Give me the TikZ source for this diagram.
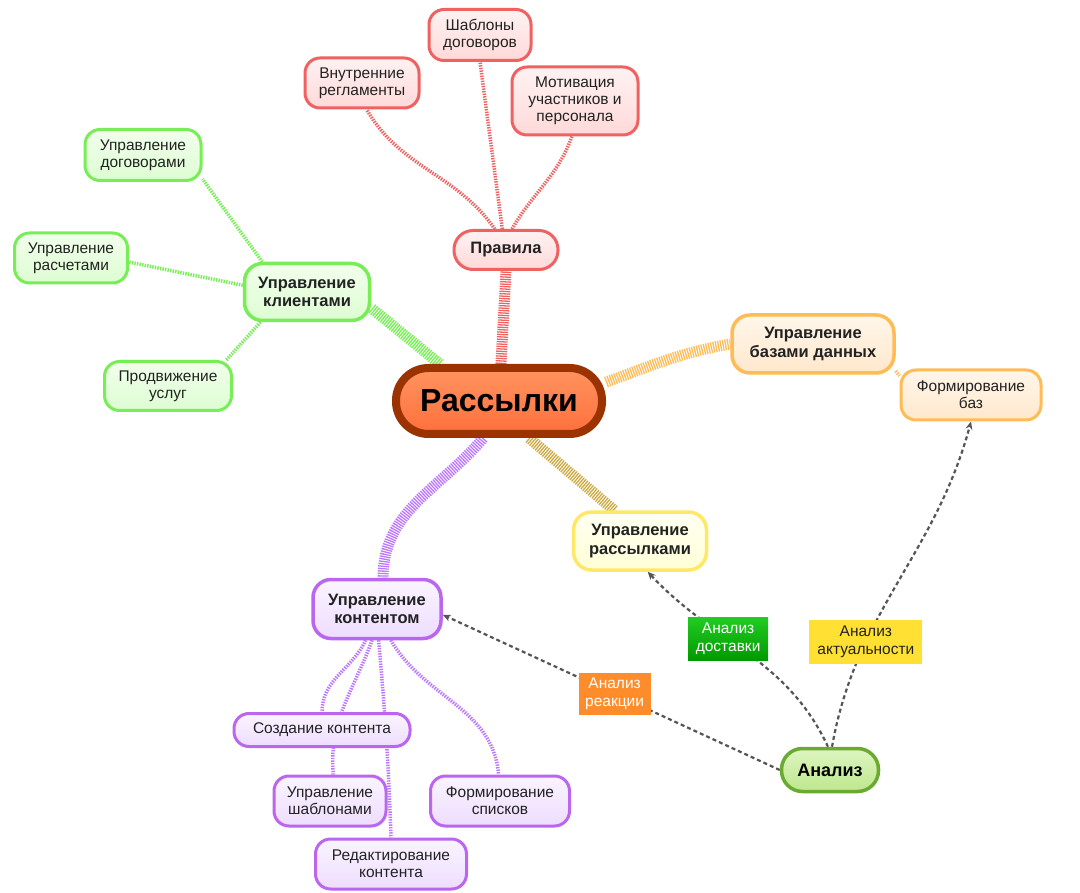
\documentclass[tikz,border=0pt]{standalone}
\usepackage{fontspec}
\setmainfont{Liberation Sans}
\usetikzlibrary{arrows.meta,backgrounds}
\definecolor{mainD}{HTML}{9A3300}
\definecolor{mainT}{HTML}{FF9460}
\definecolor{mainB}{HTML}{FF6F3C}
\definecolor{redE}{HTML}{F06262}
\definecolor{redT}{HTML}{FFF2F2}
\definecolor{redB}{HTML}{FFD9D9}
\definecolor{grnE}{HTML}{77EE55}
\definecolor{grnT}{HTML}{F2FFEC}
\definecolor{grnB}{HTML}{DDFDD2}
\definecolor{orgE}{HTML}{FFBB55}
\definecolor{orgT}{HTML}{FFF6EA}
\definecolor{orgB}{HTML}{FFE8CC}
\definecolor{ylwE}{HTML}{FFE866}
\definecolor{ylwT}{HTML}{FFFFF2}
\definecolor{ylwB}{HTML}{FFFFD6}
\definecolor{prpE}{HTML}{BB66EE}
\definecolor{prpT}{HTML}{FAF4FF}
\definecolor{prpB}{HTML}{EEDDFF}
\definecolor{prpL}{HTML}{BB77FF}
\definecolor{khaki}{HTML}{CCAA44}
\definecolor{anE}{HTML}{6AAA30}
\definecolor{anT}{HTML}{DDF5C0}
\definecolor{anB}{HTML}{BEE78E}
\definecolor{arrG}{HTML}{555555}
\definecolor{tagO}{HTML}{FF8C2A}
\definecolor{tagGT}{HTML}{22CC22}
\definecolor{tagGB}{HTML}{009900}
\definecolor{tagY}{HTML}{FFE033}
\definecolor{txt}{HTML}{222222}
\begin{document}
\begin{tikzpicture}[x=1pt,y=-1pt,
  box/.style={rounded corners=15pt, line width=3pt, align=center, inner sep=0pt,
    font=\fontsize{15.5}{17}\selectfont, text=txt},
  topbox/.style={box, rounded corners=18pt, line width=3.5pt, font=\bfseries\fontsize{16.5}{18.5}\selectfont},
  redbox/.style={draw=redE, top color=redT, bottom color=redB},
  grnbox/.style={draw=grnE, top color=grnT, bottom color=grnB},
  orgbox/.style={draw=orgE, top color=orgT, bottom color=orgB},
  ylwbox/.style={draw=ylwE, top color=ylwT, bottom color=ylwB},
  prpbox/.style={draw=prpE, top color=prpT, bottom color=prpB},
  sz/.style 2 args={minimum width=#1pt, minimum height=#2pt},
  branch/.style={line width=11pt, dash pattern=on 1.3pt off 1.1pt},
  twig/.style={line width=3.5pt, dash pattern=on 1.4pt off 1.2pt},
  flow/.style={draw=arrG, line width=2.2pt, dash pattern=on 4pt off 3pt,
    -{Stealth[length=8pt,width=7pt]}},
  tag/.style={inner sep=0pt, align=center, font=\fontsize{15.5}{18}\selectfont}
]
\useasboundingbox (0,0) rectangle (1080,893);

% central node
\node[box, sz={206}{66}, rounded corners=32.5pt, line width=8pt, draw=mainD,
  top color=mainT, bottom color=mainB, text=black,
  font=\bfseries\fontsize{32}{36}\selectfont] (main) at (499,401) {Рассылки};

% rules group
\node[box, topbox, redbox, sz={104}{39}, rounded corners=19pt, line width=3pt] (rules) at (506,250) {Правила};
\node[box, redbox, sz={102}{51}] (tpl) at (480,35) {Шаблоны\\договоров};
\node[box, redbox, sz={114}{50}] (regl) at (362,83) {Внутренние\\регламенты};
\node[box, redbox, sz={126}{68}] (motiv) at (575,101) {Мотивация\\участников и\\персонала};

% clients group
\node[box, topbox, grnbox, sz={125}{57}] (clients) at (307,292) {Управление\\клиентами};
\node[box, grnbox, sz={116}{51}] (dogov) at (143,155) {Управление\\договорами};
\node[box, grnbox, sz={113}{50}] (rasch) at (71,258) {Управление\\расчетами};
\node[box, grnbox, sz={127}{49}] (prod) at (168,386) {Продвижение\\услуг};

% bases group
\node[box, topbox, orgbox, sz={162}{58}] (bases) at (813,344) {Управление\\базами данных};
\node[box, orgbox, sz={140}{50}] (formb) at (971,395) {Формирование\\баз};

% mailing
\node[box, topbox, ylwbox, sz={133}{58}] (mailing) at (640,541) {Управление\\рассылками};

% content group
\node[box, topbox, prpbox, sz={128}{59}] (content) at (377,609) {Управление\\контентом};
\node[box, prpbox, sz={176}{33}, rounded corners=15pt] (create) at (322,730) {Создание контента};
\node[box, prpbox, sz={112}{50}] (tpl2) at (330,801) {Управление\\шаблонами};
\node[box, prpbox, sz={151}{50}] (edit) at (391,864) {Редактирование\\контента};
\node[box, prpbox, sz={139}{50}] (lists) at (500,801) {Формирование\\списков};

% analysis
\node[box, sz={97}{43}, rounded corners=21pt, line width=3.5pt, draw=anE,
  top color=anT, bottom color=anB, text=black,
  font=\bfseries\fontsize{18}{20}\selectfont] (analysis) at (830,770) {Анализ};

\begin{scope}[on background layer]
  \fill[white] (0,0) rectangle (1080,893);
  % main branches
  \draw[branch, draw=redE] (main.87) -- (rules.south);
  \draw[branch, draw=grnE] (main.148) -- (clients.-14);
  \draw[branch, draw=orgE] (main.10) to[out=20,in=190] (bases.west);
  \draw[branch, draw=khaki] (main.-51) -- (mailing.130);
  \draw[branch, draw=prpL] (main.-113) to[out=-130,in=90] (content.79);
  % rules twigs
  \draw[twig, draw=redE] (rules.118) to[out=125,in=-60] (regl.-80);
  \draw[twig, draw=redE] (rules.100) -- (tpl.south);
  \draw[twig, draw=redE] (rules.74) to[out=60,in=-110] (motiv.-95);
  % clients twigs
  \draw[twig, draw=grnE] (clients.146) -- (dogov.-22);
  \draw[twig, draw=grnE] (clients.174) -- (rasch.-4);
  \draw[twig, draw=grnE] (clients.-147) -- (prod.24);
  % bases twig
  \draw[twig, draw=orgE] (bases.-18) -- (formb.165);
  % content twigs
  \draw[twig, draw=prpL] (content.-110) to[out=-115,in=90] (create.north);
  \draw[twig, draw=prpL] (content.-99) to[out=-110,in=95] (tpl2.83);
  \draw[twig, draw=prpL] (content.-87) to[out=-85,in=92] (edit.north);
  \draw[twig, draw=prpL] (content.-66) to[out=-60,in=95] (lists.93);
  % analysis flows
  \draw[flow] (analysis.west) -- (content.-5)
    node[tag, pos=0.49, fill=tagO, text=white, sz={72}{42}] (reac) {Анализ\\реакции};
  \draw[flow] (analysis.95) to[out=115,in=-47]
    node[tag, pos=0.6, top color=tagGT, bottom color=tagGB, text=white, sz={80}{43}] (deliv) {Анализ\\доставки}
    (mailing.-76);
  \draw[flow] (analysis.85) to[out=80,in=-105]
    node[tag, pos=0.3, fill=tagY, text=txt, sz={113}{44}] (actual) {Анализ\\актуальности}
    (formb.south);
\end{scope}
\end{tikzpicture}
\end{document}
